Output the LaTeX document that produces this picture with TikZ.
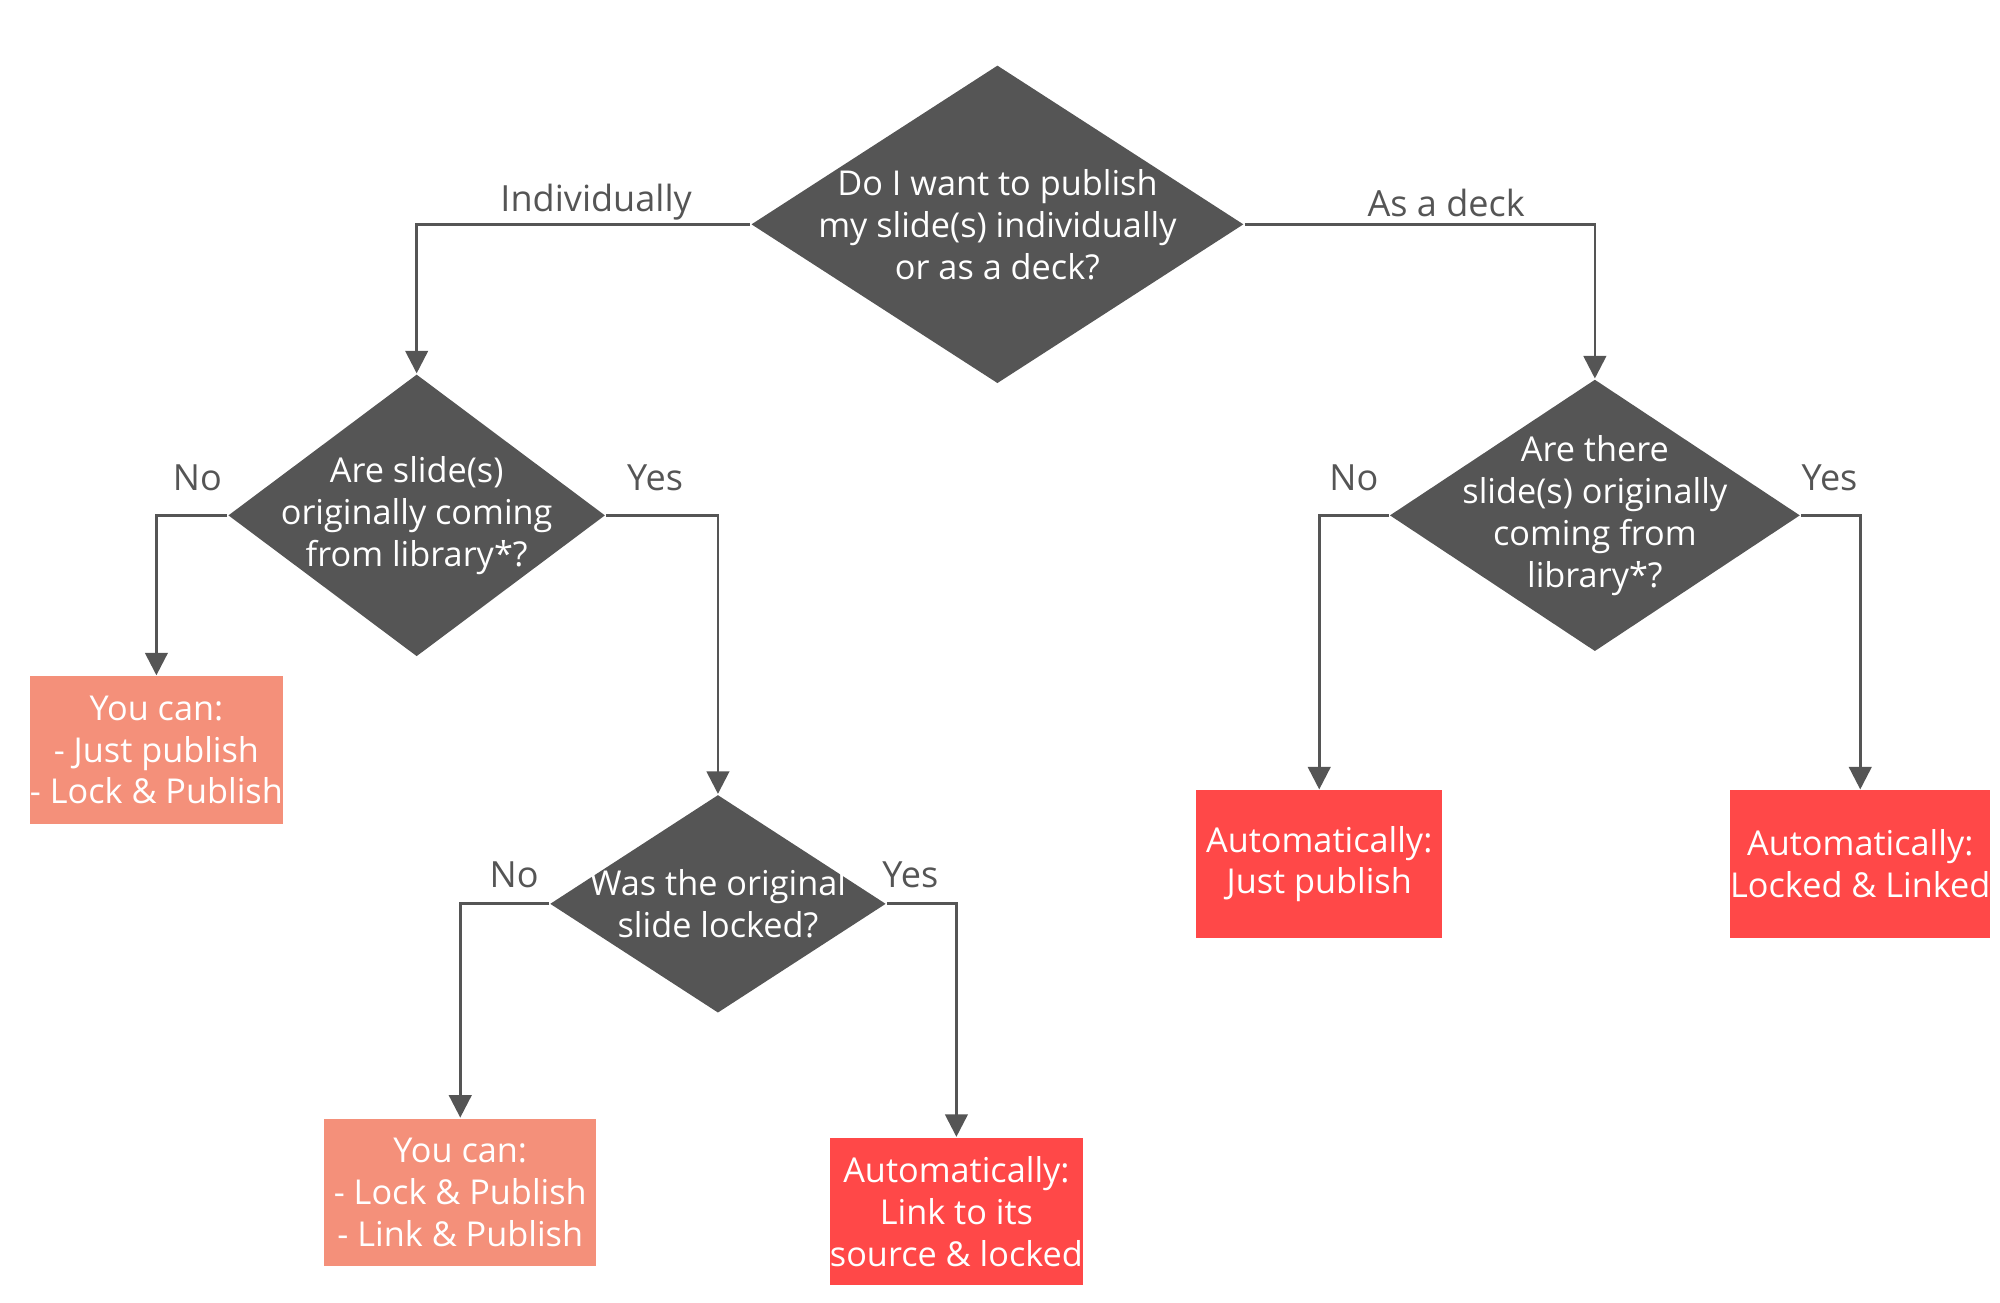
\documentclass[tikz,border=0pt]{standalone}
\usepackage{fontspec}
\setmainfont{Open Sans}
\usetikzlibrary{shapes.geometric,arrows.meta}
\definecolor{darkgrey}{HTML}{555555}
\definecolor{salmon}{HTML}{F4907A}
\definecolor{brightred}{HTML}{FF4848}
\begin{document}
\begin{tikzpicture}[x=0.01cm,y=-0.01cm,
  decision/.style={diamond,fill=darkgrey,inner sep=0pt},
  dtext/.style={text=white,align=center,font=\fontsize{7.6}{9.3}\selectfont},
  choice/.style={fill=salmon,text=white,align=center,inner sep=0pt,
    minimum width=1.92cm,minimum height=1.15cm,font=\fontsize{7.6}{9.3}\selectfont},
  auto box/.style={fill=brightred,text=white,align=center,inner sep=0pt,
    minimum width=1.92cm,minimum height=1.15cm,font=\fontsize{7.6}{9.3}\selectfont},
  flow/.style={draw=darkgrey,line width=0.6pt,-{Triangle[length=5pt,width=5pt]}},
  branch/.style={text=darkgrey,font=\fontsize{8}{10}\selectfont}]
  \useasboundingbox (0,0) rectangle (1560,1016);

  % Decisions
  \node[decision,minimum width=3.84cm,minimum height=2.48cm] (q1) at (778,175) {};
  \node[dtext] at (q1) {Do I want to publish\\my slide(s) individually\\or as a deck?};
  \node[decision,minimum width=2.94cm,minimum height=2.2cm] (q2) at (325,402) {};
  \node[dtext] at (q2) {Are slide(s)\\originally coming\\from library*?};
  \node[decision,minimum width=3.2cm,minimum height=2.12cm] (q3) at (1244,402) {};
  \node[dtext] at (q3) {Are there\\slide(s) originally\\coming from\\library*?};
  \node[decision,minimum width=2.62cm,minimum height=1.7cm] (q4) at (560,705) {};
  \node[dtext] at (q4) {Was the original\\slide locked?};

  % Outcomes
  \node[choice] (a1) at (122,585) {You can:\\- Just publish\\- Lock \& Publish};
  \node[choice,minimum width=2.12cm] (a2) at (359,930) {You can:\\- Lock \& Publish\\- Link \& Publish};
  \node[auto box] (a3) at (746,945) {Automatically:\\Link to its\\source \& locked};
  \node[auto box] (a4) at (1029,674) {Automatically:\\Just publish};
  \node[auto box] (a5) at (1451,674) {Automatically:\\Locked \& Linked};

  % Connectors
  \draw[flow] (q1.west) -| (q2.north);
  \draw[flow] (q1.east) -| (q3.north);
  \draw[flow] (q2.west) -| (a1.north);
  \draw[flow] (q2.east) -| (q4.north);
  \draw[flow] (q4.west) -| (a2.north);
  \draw[flow] (q4.east) -| (a3.north);
  \draw[flow] (q3.west) -| (a4.north);
  \draw[flow] (q3.east) -| (a5.north);

  % Labels
  \node[branch] at (465,158) {Individually};
  \node[branch] at (1128,158) {As a deck};
  \node[branch] at (154,373) {No};
  \node[branch] at (511,373) {Yes};
  \node[branch] at (401,682) {No};
  \node[branch] at (710,682) {Yes};
  \node[branch] at (1056,373) {No};
  \node[branch] at (1427,373) {Yes};
\end{tikzpicture}
\end{document}
